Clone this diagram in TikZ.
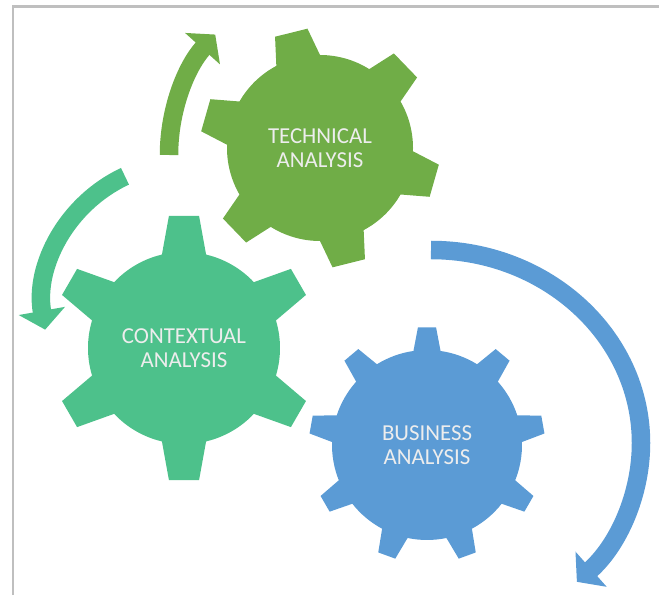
\documentclass[tikz,border=0pt]{standalone}
\usepackage{fontspec}
\setmainfont{Carlito}
\usepackage{tikz}
\usepackage{xcolor}
\usetikzlibrary{arrows.meta, calc}

\definecolor{techgreen}{HTML}{70AD47}
\definecolor{ctxteal}{HTML}{4DC18B}
\definecolor{bizblue}{HTML}{5B9BD5}

% gear: centre, teeth, first tooth angle, body radius, tip radius, half base angle, half tip angle, colour
\newcommand{\gear}[8]{%
  \fill[#8, shift={(#1)}] (#3-#6:#4)
    \foreach \k [evaluate=\k as \a using #3+(\k-1)*360/#2] in {1,...,#2} {
      -- (\a-#6:#4) -- (\a-#7:#5) -- (\a+#7:#5) -- (\a+#6:#4)
      arc[start angle=\a+#6, end angle=\a+360/#2-#6, radius=#4]
    } -- cycle;
}

\begin{document}
\begin{tikzpicture}[x=0.02cm, y=0.02cm,
    gearlabel/.style={align=center, text=white!93!black, font=\fontsize{13}{13.6}\selectfont},
    turnarrow/.style={line width=0.37cm, -{Triangle[width=0.92cm, length=0.38cm]}}]
    \useasboundingbox (0,0) rectangle (659,595);
    % frame
    \draw[black!25, line width=1.2pt] (13,0) -- (13,588.5) -- (659,588.5);

    \coordinate (tech) at (320,447);
    \coordinate (ctx) at (184,247);
    \coordinate (biz) at (427,150);

    \gear{tech}{6}{104}{93}{120}{14}{8}{techgreen}
    \gear{ctx}{6}{90}{96}{133}{13.3}{6.5}{ctxteal}
    \gear{biz}{9}{90}{95}{118}{8.2}{4.4}{bizblue}

    \node[gearlabel] (techlabel) at (tech) {TECHNICAL\\ANALYSIS};
    \node[gearlabel] (ctxlabel) at (ctx) {CONTEXTUAL\\ANALYSIS};
    \node[gearlabel] (bizlabel) at (biz) {BUSINESS\\ANALYSIS};

    % turning arrows
    \coordinate (techpivot) at (349,440);
    \coordinate (ctxpivot) at (185,290);
    \coordinate (bizpivot) at (431,152);
    \draw[turnarrow, techgreen] ($(techpivot)+(180:180)$) arc[start angle=180, end angle=138, radius=180];
    \draw[turnarrow, ctxteal] ($(ctxpivot)+(115:142)$) arc[start angle=115, end angle=190, radius=142];
    \draw[turnarrow, bizblue] ($(bizpivot)+(90:210 and 193)$) arc[start angle=90, end angle=-46, x radius=210, y radius=193];
\end{tikzpicture}
\end{document}
